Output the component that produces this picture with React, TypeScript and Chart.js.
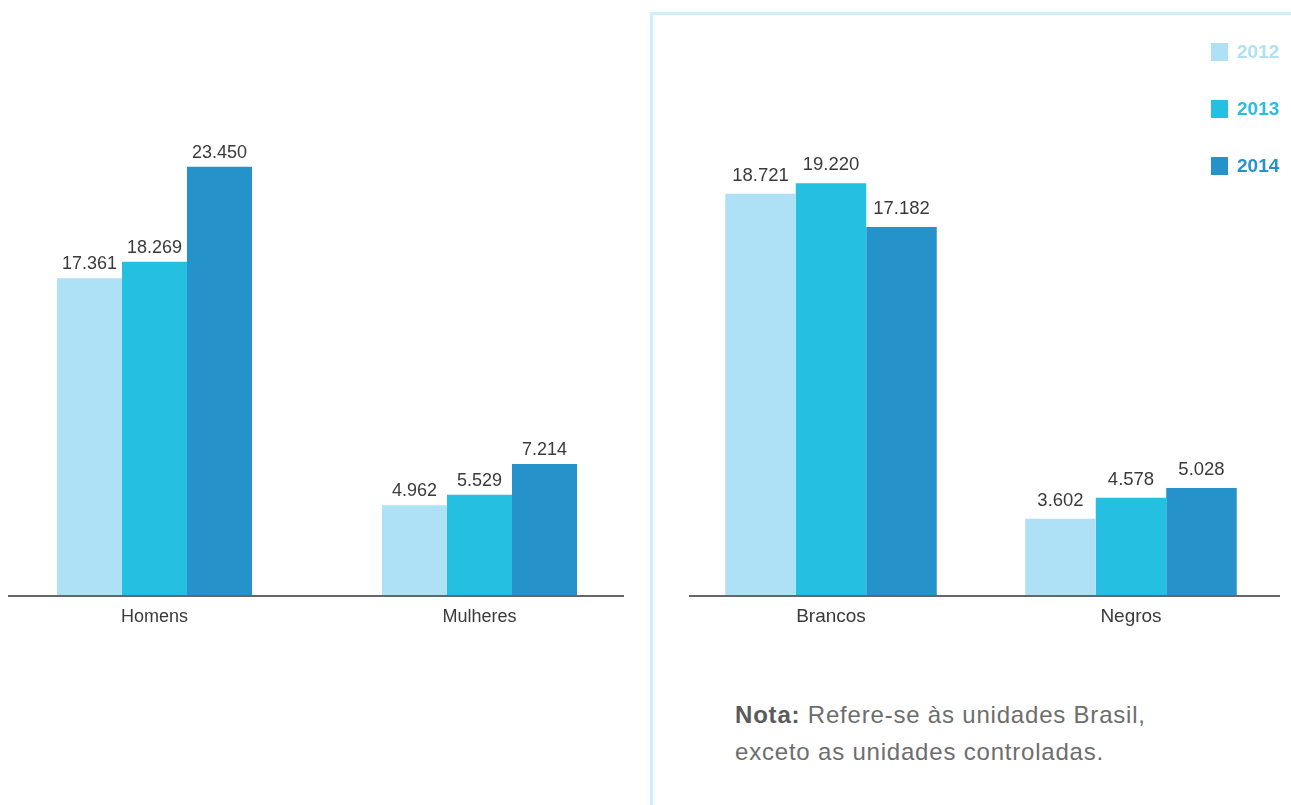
import React, { useEffect, useRef } from "react";
import { Chart, registerables } from "chart.js";

Chart.register(...registerables);

// ---- data ----
const years = ["2012", "2013", "2014"];
const yearColors = ["#aee0f6", "#25bfe1", "#2592c9"];

const genderCategories = ["Homens", "Mulheres"];
const gender2012 = [17361, 4962];
const gender2013 = [18269, 5529];
const gender2014 = [23450, 7214];

const raceCategories = ["Brancos", "Negros"];
const race2012 = [18721, 3602];
const race2013 = [19220, 4578];
const race2014 = [17182, 5028];

const noteLabel = "Nota:";
const noteLines = ["Refere-se às unidades Brasil,", "exceto as unidades controladas."];

const FONT = "'Liberation Sans', Arial, Helvetica, sans-serif";
const TEXT = "#3a3a3a";

const fmt = (v: number) => String(v).replace(/\B(?=(\d{3})+(?!\d))/g, ".");

const valueLabelPlugin = {
  id: "valueLabels",
  afterDatasetsDraw(chart: any, _args: any, opts: any) {
    const ctx = chart.ctx;
    ctx.save();
    ctx.font = opts.font;
    ctx.fillStyle = opts.color;
    ctx.textAlign = "center";
    ctx.textBaseline = "alphabetic";
    chart.data.datasets.forEach((ds: any, i: number) => {
      const meta = chart.getDatasetMeta(i);
      meta.data.forEach((el: any, j: number) => {
        ctx.fillText(fmt(ds.data[j]), el.x, el.y - opts.offset);
      });
    });
    ctx.restore();
  },
};

const baselinePlugin = {
  id: "baseline",
  afterDatasetsDraw(chart: any, _args: any, opts: any) {
    const { ctx, chartArea } = chart;
    const y = chart.scales.y.getPixelForValue(0);
    ctx.save();
    ctx.strokeStyle = opts.color;
    ctx.lineWidth = opts.width;
    ctx.beginPath();
    ctx.moveTo(chartArea.left + opts.insetLeft, y);
    ctx.lineTo(chartArea.right - opts.insetRight, y);
    ctx.stroke();
    ctx.restore();
  },
};

type BarProps = {
  categories: string[];
  series: number[][];
  max: number;
  catPct: number;
  tickSize: number;
  valueSize: number;
  valueOffset: number;
  insetLeft: number;
  insetRight: number;
  style: React.CSSProperties;
  width: number;
  height: number;
};

function BarChart(p: BarProps) {
  const ref = useRef<HTMLCanvasElement | null>(null);
  useEffect(() => {
    if (!ref.current) return;
    const chart = new Chart(ref.current, {
      type: "bar",
      data: {
        labels: p.categories,
        datasets: p.series.map((d, i) => ({
          label: years[i],
          data: d,
          backgroundColor: yearColors[i],
          borderWidth: 0,
          barPercentage: 1,
          categoryPercentage: p.catPct,
        })),
      },
      options: {
        responsive: false,
        animation: false,
        layout: { padding: 0 },
        plugins: {
          legend: { display: false },
          tooltip: { enabled: false },
          valueLabels: {
            font: `${p.valueSize}px ${FONT}`,
            color: TEXT,
            offset: p.valueOffset,
          },
          baseline: {
            color: "#666666",
            width: 2,
            insetLeft: p.insetLeft,
            insetRight: p.insetRight,
          },
        } as any,
        scales: {
          x: {
            grid: { display: false, drawTicks: false },
            border: { display: false },
            ticks: {
              color: TEXT,
              padding: 11,
              font: { family: FONT, size: p.tickSize, lineHeight: "20px" as any },
            },
          },
          y: {
            display: false,
            min: 0,
            max: p.max,
          },
        },
      },
      plugins: [valueLabelPlugin, baselinePlugin],
    });
    return () => chart.destroy();
  }, []);
  return (
    <canvas
      ref={ref}
      width={p.width}
      height={p.height}
      style={{ position: "absolute", width: p.width, height: p.height, ...p.style }}
    />
  );
}

export default function App() {
  return (
    <div
      style={{
        position: "fixed",
        left: 0,
        top: 0,
        width: 1291,
        height: 805,
        background: "#ffffff",
        overflow: "hidden",
        fontFamily: FONT,
      }}
    >
      <div
        style={{
          position: "absolute",
          left: 650,
          top: 12,
          width: 641,
          height: 793,
          borderLeft: "3px solid #cfeefb",
          borderTop: "3px solid #cfeefb",
          boxSizing: "border-box",
        }}
      />
      <BarChart
        categories={genderCategories}
        series={[gender2012, gender2013, gender2014]}
        max={30000}
        catPct={0.6}
        tickSize={18}
        valueSize={18}
        valueOffset={9}
        insetLeft={16}
        insetRight={18}
        width={650}
        height={591}
        style={{ left: -8, top: 47 }}
      />
      <BarChart
        categories={raceCategories}
        series={[race2012, race2013, race2014]}
        max={25000}
        catPct={0.705}
        tickSize={19}
        valueSize={18.5}
        valueOffset={13}
        insetLeft={8}
        insetRight={1}
        width={600}
        height={579}
        style={{ left: 681, top: 59 }}
      />
      {years.map((y, i) => (
        <div
          key={y}
          style={{
            position: "absolute",
            left: 1211,
            top: 43 + i * 57,
            height: 18,
            display: "flex",
            alignItems: "center",
          }}
        >
          <div style={{ width: 17, height: 18, background: yearColors[i] }} />
          <div
            style={{
              marginLeft: 9,
              color: yearColors[i],
              fontWeight: 700,
              fontSize: 19,
              lineHeight: "18px",
            }}
          >
            {y}
          </div>
        </div>
      ))}
      <div
        style={{
          position: "absolute",
          left: 735,
          top: 696,
          fontSize: 24,
          letterSpacing: "0.8px",
          lineHeight: "37px",
          color: "#6d6d6d",
          whiteSpace: "nowrap",
        }}
      >
        <span style={{ fontWeight: 700, color: "#5a5a5a" }}>{noteLabel}</span> {noteLines[0]}
        <br />
        {noteLines[1]}
      </div>
    </div>
  );
}
